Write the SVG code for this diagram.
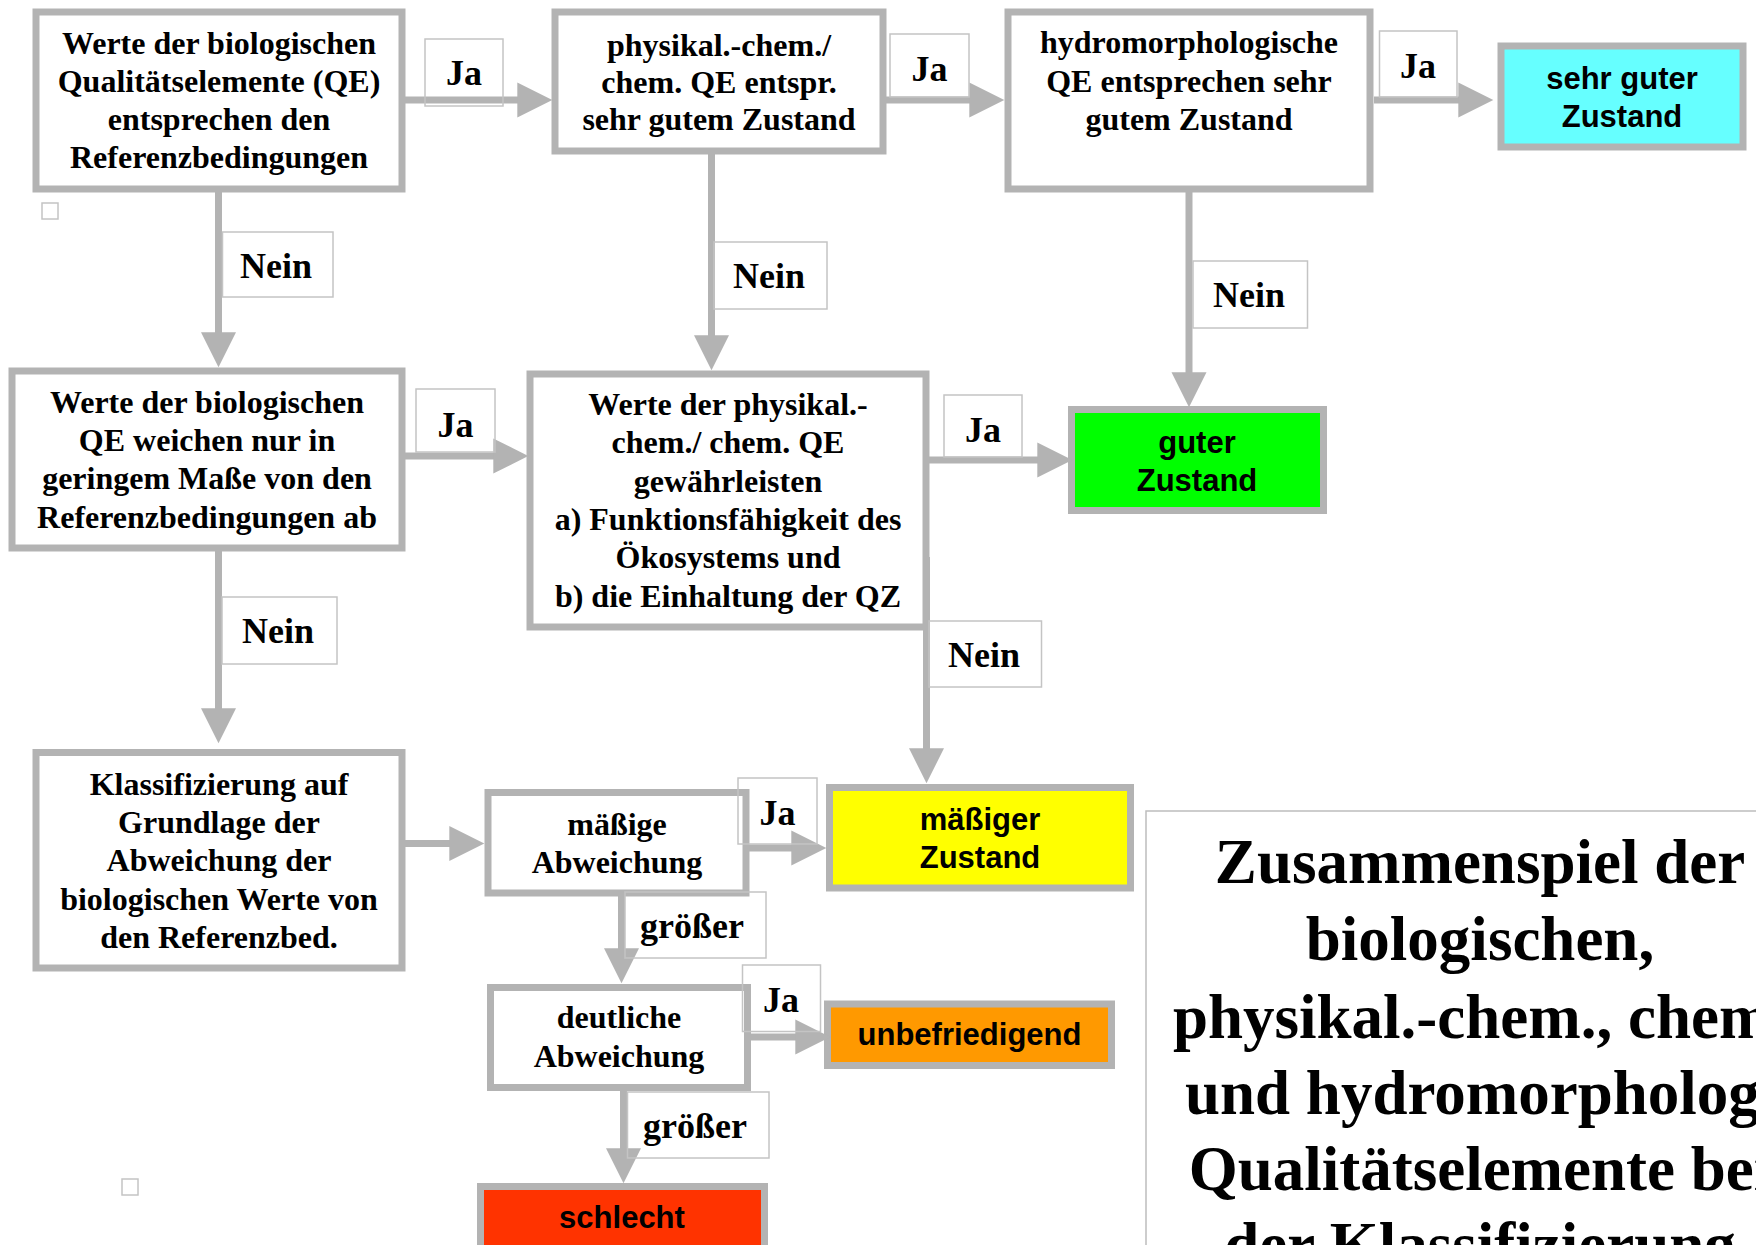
<svg xmlns="http://www.w3.org/2000/svg" width="1756" height="1245" viewBox="0 0 1756 1245">
<style>
.box{fill:#ffffff;stroke:#b3b3b3;stroke-width:7}
.lbl{fill:none;stroke:#c4c4c4;stroke-width:1.5}
.t{font-family:"Liberation Serif","Times New Roman",serif;font-weight:bold;font-size:32px;fill:#000;text-anchor:middle}
.s{font-family:"Liberation Sans",Arial,sans-serif;font-weight:bold;font-size:31px;fill:#000;text-anchor:middle}
.lt{font-family:"Liberation Serif","Times New Roman",serif;font-weight:bold;font-size:36px;fill:#000;text-anchor:middle}
.title{font-family:"Liberation Serif","Times New Roman",serif;font-weight:bold;font-size:63px;fill:#000;text-anchor:middle}
.c{fill:none;stroke:#b3b3b3;stroke-width:7;marker-end:url(#ah)}
</style>
<defs>
<marker id="ah" markerUnits="strokeWidth" markerWidth="5" markerHeight="5" refX="0.1" refY="2.5" orient="auto" overflow="visible">
<path d="M0,0 L5,2.5 L0,5 Z" fill="#b3b3b3"/>
</marker>
</defs>
<rect width="1756" height="1245" fill="#ffffff"/>

<g id="title-box">
<rect x="1146" y="811" width="800" height="600" fill="#ffffff" stroke="#bdbdbd" stroke-width="1.5"/>
<text class="title" x="1480" y="883">Zusammenspiel der</text>
<text class="title" x="1480" y="960">biologischen,</text>
<text class="title" x="1480" y="1038">physikal.-chem., chem.</text>
<text class="title" x="1185" y="1114" style="text-anchor:start">und hydromorphologischen</text>
<text class="title" x="1480" y="1190">Qualitätselemente bei</text>
<text class="title" x="1480" y="1266">der Klassifizierung</text>
</g>

<g id="n1">
<rect class="box" x="36" y="12" width="366" height="177"/>
<text class="t" x="219" y="54">Werte der biologischen</text>
<text class="t" x="219" y="92">Qualitätselemente (QE)</text>
<text class="t" x="219" y="130">entsprechen den</text>
<text class="t" x="219" y="168">Referenzbedingungen</text>
</g>
<g id="n2">
<rect class="box" x="555" y="12" width="328" height="139"/>
<text class="t" x="719" y="56">physikal.-chem./</text>
<text class="t" x="719" y="93">chem. QE entspr.</text>
<text class="t" x="719" y="130">sehr gutem Zustand</text>
</g>
<g id="n3">
<rect class="box" x="1008" y="12" width="362" height="177"/>
<text class="t" x="1189" y="53">hydromorphologische</text>
<text class="t" x="1189" y="92">QE entsprechen sehr</text>
<text class="t" x="1189" y="130">gutem Zustand</text>
</g>
<g id="sehr-guter">
<rect class="box" x="1501" y="46" width="242" height="101" style="fill:#66ffff"/>
<text class="s" x="1622" y="89">sehr guter</text>
<text class="s" x="1622" y="127">Zustand</text>
</g>
<g id="n4">
<rect class="box" x="12" y="371" width="390" height="177"/>
<text class="t" x="207" y="413">Werte der biologischen</text>
<text class="t" x="207" y="451">QE weichen nur in</text>
<text class="t" x="207" y="489">geringem Maße von den</text>
<text class="t" x="207" y="528">Referenzbedingungen ab</text>
</g>
<g id="n5">
<rect class="box" x="530" y="374" width="396" height="253"/>
<text class="t" x="728" y="415">Werte der physikal.-</text>
<text class="t" x="728" y="453">chem./ chem. QE</text>
<text class="t" x="728" y="492">gewährleisten</text>
<text class="t" x="728" y="530">a) Funktionsfähigkeit des</text>
<text class="t" x="728" y="568">Ökosystems und</text>
<text class="t" x="728" y="607">b) die Einhaltung der QZ</text>
</g>
<g id="guter">
<rect class="box" x="1071.5" y="409.5" width="252" height="101" style="fill:#00ff00"/>
<text class="s" x="1197" y="453">guter</text>
<text class="s" x="1197" y="491">Zustand</text>
</g>
<g id="n6">
<rect class="box" x="36" y="752.5" width="366" height="215.5"/>
<text class="t" x="219" y="795">Klassifizierung auf</text>
<text class="t" x="219" y="833">Grundlage der</text>
<text class="t" x="219" y="871">Abweichung der</text>
<text class="t" x="219" y="910">biologischen Werte von</text>
<text class="t" x="219" y="948">den Referenzbed.</text>
</g>
<g id="maessige">
<rect class="box" x="488" y="792.5" width="258" height="100.5"/>
<text class="t" x="617" y="835">mäßige</text>
<text class="t" x="617" y="873">Abweichung</text>
</g>
<g id="maessiger">
<rect class="box" x="829.5" y="787.5" width="301" height="100.5" style="fill:#ffff00"/>
<text class="s" x="980" y="830">mäßiger</text>
<text class="s" x="980" y="868">Zustand</text>
</g>
<g id="deutliche">
<rect class="box" x="490.5" y="987.5" width="257" height="100"/>
<text class="t" x="619" y="1028">deutliche</text>
<text class="t" x="619" y="1067">Abweichung</text>
</g>
<g id="unbefriedigend">
<rect class="box" x="827.5" y="1004" width="284" height="61.5" style="fill:#ff9900"/>
<text class="s" x="969.5" y="1045">unbefriedigend</text>
</g>
<g id="schlecht">
<rect class="box" x="480.5" y="1186.5" width="284" height="100" style="fill:#ff3300"/>
<text class="s" x="622" y="1228">schlecht</text>
</g>

<g id="connectors">
<line class="c" x1="405" y1="100" x2="518" y2="100"/>
<line class="c" x1="886" y1="100" x2="970" y2="100"/>
<line class="c" x1="1374" y1="100" x2="1459" y2="100"/>
<line class="c" x1="218.5" y1="192" x2="218.5" y2="333"/>
<line class="c" x1="711.5" y1="154" x2="711.5" y2="336"/>
<line class="c" x1="1189" y1="192" x2="1189" y2="373"/>
<line class="c" x1="405" y1="456" x2="494" y2="456"/>
<line class="c" x1="929" y1="460" x2="1038" y2="460"/>
<line class="c" x1="218.5" y1="551" x2="218.5" y2="709"/>
<line class="c" x1="926.5" y1="557" x2="926.5" y2="749"/>
<line class="c" x1="405" y1="843.5" x2="450" y2="843.5"/>
<line class="c" x1="749" y1="848" x2="792" y2="848"/>
<line class="c" x1="621.5" y1="896" x2="621.5" y2="949"/>
<line class="c" x1="751" y1="1037" x2="796" y2="1037"/>
<line class="c" x1="623.5" y1="1090" x2="623.5" y2="1149"/>
</g>

<g id="labels">
<rect class="lbl" x="425" y="39" width="78" height="67"/>
<text class="lt" x="464" y="85">Ja</text>
<rect class="lbl" x="890" y="34" width="79" height="63"/>
<text class="lt" x="929.5" y="81">Ja</text>
<rect class="lbl" x="1379.5" y="31" width="77.5" height="66"/>
<text class="lt" x="1418" y="78">Ja</text>
<rect class="lbl" x="222.5" y="232" width="110.5" height="65"/>
<text class="lt" x="276" y="278">Nein</text>
<rect class="lbl" x="714" y="242" width="113" height="67"/>
<text class="lt" x="769" y="288">Nein</text>
<rect class="lbl" x="1193" y="261" width="114.5" height="67"/>
<text class="lt" x="1249" y="307">Nein</text>
<rect class="lbl" x="416" y="389" width="79" height="63"/>
<text class="lt" x="455.5" y="437">Ja</text>
<rect class="lbl" x="944" y="395" width="78" height="62"/>
<text class="lt" x="983" y="442">Ja</text>
<rect class="lbl" x="222" y="597" width="115" height="67"/>
<text class="lt" x="278" y="643">Nein</text>
<rect class="lbl" x="929" y="621" width="112.5" height="66"/>
<text class="lt" x="984" y="667">Nein</text>
<rect class="lbl" x="738" y="778" width="79" height="66"/>
<text class="lt" x="777.5" y="825">Ja</text>
<rect class="lbl" x="625" y="892" width="141" height="66"/>
<text class="lt" x="692" y="938">größer</text>
<rect class="lbl" x="742.5" y="965" width="78" height="66.5"/>
<text class="lt" x="781" y="1012">Ja</text>
<rect class="lbl" x="627.5" y="1092" width="141.5" height="66"/>
<text class="lt" x="695" y="1138">größer</text>
<rect class="lbl" x="42" y="203" width="16" height="16"/>
<rect class="lbl" x="122" y="1179" width="16" height="16"/>
</g>
</svg>
